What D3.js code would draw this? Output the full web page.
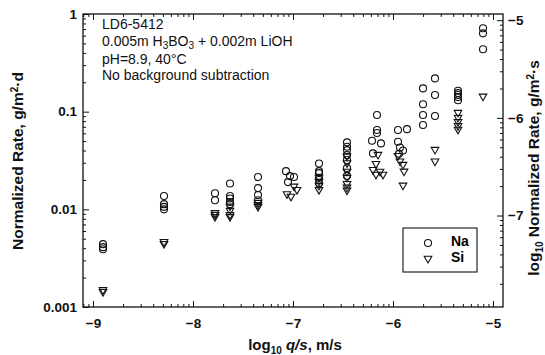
<!DOCTYPE html>
<html>
<head>
<meta charset="utf-8">
<script src="https://cdn.jsdelivr.net/npm/d3@7"></script>
<style>
  html, body { margin: 0; padding: 0; background: #fff; }
  svg { display: block; font-family: "Liberation Sans", Arial, sans-serif; }
  .tick line { stroke: #111; }
  .domain { display: none; }
</style>
</head>
<body>
<svg id="chart" width="545" height="355"></svg>
<script>
// Na release: log10(q/s) and normalized rate (g/m²·d)
const naLogQS = [
  -8.90, -8.90, -8.90,
  -8.29, -8.29, -8.29, -8.29,
  -7.78, -7.78,
  -7.63, -7.63, -7.63, -7.63, -7.63,
  -7.35, -7.35, -7.35, -7.35,
  -7.07, -7.03, -6.99, -7.05,
  -6.74, -6.74, -6.74, -6.74, -6.74,
  -6.46, -6.46, -6.46, -6.46, -6.46, -6.46, -6.46,
  -6.16, -6.16, -6.16, -6.21, -6.12, -6.20,
  -5.95, -5.86, -5.95, -5.93, -5.90, -5.94,
  -5.70, -5.70, -5.70, -5.70,
  -5.58, -5.58, -5.58,
  -5.35, -5.35, -5.35, -5.35, -5.35,
  -5.10, -5.10, -5.10
];
const naRate = [
  0.0044, 0.0041, 0.0039,
  0.0137, 0.0113, 0.0106, 0.0100,
  0.0146, 0.0124,
  0.0184, 0.0137, 0.0129, 0.0119, 0.0113,
  0.0214, 0.0165, 0.0140, 0.0124,
  0.0246, 0.0219, 0.0214, 0.0190,
  0.0295, 0.0246, 0.0235, 0.0210, 0.0185,
  0.0485, 0.0437, 0.0404, 0.0360, 0.0320, 0.0265, 0.0220,
  0.0923, 0.0648, 0.0604, 0.0503, 0.0473, 0.0374,
  0.0648, 0.0662, 0.0492, 0.0430, 0.0400, 0.0370,
  0.173, 0.119, 0.0923, 0.0729,
  0.219, 0.148, 0.0902,
  0.164, 0.155, 0.148, 0.141, 0.131,
  0.714, 0.634, 0.435
];

// Si release: log10(q/s) and normalized rate (g/m²·d)
const siLogQS = [
  -8.90, -8.90,
  -8.29, -8.29,
  -7.78, -7.78, -7.78,
  -7.63, -7.63, -7.63, -7.63,
  -7.35, -7.35, -7.35,
  -7.06, -7.02, -6.99, -6.96,
  -6.74, -6.74, -6.74, -6.74,
  -6.46, -6.46, -6.46, -6.46, -6.46, -6.46, -6.46,
  -6.15, -6.17, -6.20, -6.13, -6.17, -6.10,
  -5.93, -5.90, -5.89, -5.90, -5.95,
  -5.58, -5.58,
  -5.35, -5.35, -5.35, -5.35, -5.35,
  -5.10
];
const siRate = [
  0.00142, 0.00148,
  0.0044, 0.0046,
  0.0091, 0.0087, 0.0083,
  0.0106, 0.0096, 0.0087, 0.0083,
  0.0116, 0.0110, 0.0105,
  0.0142, 0.0134, 0.0170, 0.0157,
  0.0209, 0.0190, 0.0173, 0.0157,
  0.0345, 0.0295, 0.0241, 0.0209, 0.0181, 0.0166, 0.0155,
  0.0359, 0.0290, 0.0252, 0.0241, 0.0225, 0.0225,
  0.0307, 0.0284, 0.0242, 0.0174, 0.0350,
  0.0404, 0.0307,
  0.0968, 0.086, 0.078, 0.071, 0.065,
  0.142
];

// Axis ticks
const xTickValues = [-9, -8, -7, -6, -5];
const yTickValues = [0.001, 0.01, 0.1, 1];
const yTickLabels = ["0.001", "0.01", "0.1", "1"];
const y2TickValues = [-7, -6, -5];
const secondsPerDay = 86400;

const svg = d3.select("#chart");
const plotLeft = 83, plotRight = 503, plotTop = 14, plotBottom = 307;

const x = d3.scaleLinear().domain([-9.1, -4.9]).range([plotLeft, plotRight]);
const y = d3.scaleLog().domain([0.001, 1]).range([plotBottom, plotTop]);
const y2 = d3.scaleLinear()
  .domain([Math.log10(0.001 / secondsPerDay), Math.log10(1 / secondsPerDay)])
  .range([plotBottom, plotTop]);

// minor ticks at n + log10(k), k = 2..9, for axes that carry log10 values
function logMinor(domain) {
  const lo = Math.min(...domain), hi = Math.max(...domain), out = [];
  for (let n = Math.floor(lo) - 1; n <= Math.ceil(hi); n++) {
    for (let k = 2; k <= 9; k++) {
      const v = n + Math.log10(k);
      if (v > lo && v < hi) out.push(v);
    }
  }
  return out;
}
const xMinor = logMinor(x.domain());
const y2Minor = logMinor(y2.domain());
const yMinor = [];
for (let e = -3; e < 0; e++) for (let k = 2; k <= 9; k++) yMinor.push(k * Math.pow(10, e));

const tickFont = g => g.selectAll("text")
  .attr("font-size", 13.5).attr("font-weight", "bold").attr("fill", "#111")
  .attr("font-family", "Liberation Sans, Arial, sans-serif");

// bottom
svg.append("g").attr("transform", `translate(0,${plotBottom})`)
  .call(d3.axisBottom(x).tickValues(xTickValues).tickSize(-6).tickPadding(11).tickFormat(d3.format("d")))
  .call(tickFont);
svg.append("g").attr("transform", `translate(0,${plotBottom})`)
  .call(d3.axisBottom(x).tickValues(xMinor).tickSize(-3).tickFormat(""));
// top
svg.append("g").attr("transform", `translate(0,${plotTop})`)
  .call(d3.axisTop(x).tickValues(xTickValues).tickSize(-6).tickFormat(""));
svg.append("g").attr("transform", `translate(0,${plotTop})`)
  .call(d3.axisTop(x).tickValues(xMinor).tickSize(-3).tickFormat(""));
// left
svg.append("g").attr("transform", `translate(${plotLeft},0)`)
  .call(d3.axisLeft(y).tickValues(yTickValues).tickSize(-6).tickPadding(6)
    .tickFormat((d, i) => yTickLabels[i]))
  .call(tickFont);
svg.append("g").attr("transform", `translate(${plotLeft},0)`)
  .call(d3.axisLeft(y).tickValues(yMinor).tickSize(-3).tickFormat(""));
// right
svg.append("g").attr("transform", `translate(${plotRight},0)`)
  .call(d3.axisRight(y2).tickValues(y2TickValues).tickSize(-6).tickPadding(5).tickFormat(d3.format("d")))
  .call(tickFont);
svg.append("g").attr("transform", `translate(${plotRight},0)`)
  .call(d3.axisRight(y2).tickValues(y2Minor).tickSize(-3).tickFormat(""));

// frame
svg.append("rect").attr("x", plotLeft).attr("y", plotTop)
  .attr("width", plotRight - plotLeft).attr("height", plotBottom - plotTop)
  .attr("fill", "none").attr("stroke", "#111").attr("stroke-width", 1.3);

// markers
const triPath = "M-3.8,-2.7L3.8,-2.7L0,3.9Z";
const naPts = naLogQS.map((v, i) => ({ x: v, r: naRate[i] }));
const siPts = siLogQS.map((v, i) => ({ x: v, r: siRate[i] }));

svg.append("g").selectAll("path").data(siPts).join("path")
  .attr("d", triPath)
  .attr("transform", d => `translate(${x(d.x)},${y(d.r)})`)
  .attr("fill", "none").attr("stroke", "#111").attr("stroke-width", 1.1);

svg.append("g").selectAll("circle").data(naPts).join("circle")
  .attr("cx", d => x(d.x)).attr("cy", d => y(d.r)).attr("r", 3.5)
  .attr("fill", "none").attr("stroke", "#111").attr("stroke-width", 1.1);

// annotation
const note = svg.append("g").attr("font-size", 14).attr("fill", "#111");
note.append("text").attr("x", 102).attr("y", 29).text("LD6-5412");
const l2 = note.append("text").attr("x", 102).attr("y", 46);
l2.append("tspan").text("0.005m H");
l2.append("tspan").attr("font-size", 10).attr("dy", 3).text("3");
l2.append("tspan").attr("dy", -3).text("BO");
l2.append("tspan").attr("font-size", 10).attr("dy", 3).text("3");
l2.append("tspan").attr("dy", -3).text(" + 0.002m LiOH");
note.append("text").attr("x", 102).attr("y", 64).text("pH=8.9, 40°C");
note.append("text").attr("x", 102).attr("y", 80).text("No background subtraction");

// legend
const lg = svg.append("g");
lg.append("rect").attr("x", 403).attr("y", 228).attr("width", 74).attr("height", 44)
  .attr("fill", "#fff").attr("stroke", "#111").attr("stroke-width", 1.1);
lg.append("circle").attr("cx", 428).attr("cy", 243).attr("r", 3.5)
  .attr("fill", "none").attr("stroke", "#111").attr("stroke-width", 1.1);
lg.append("path").attr("d", triPath).attr("transform", "translate(428,259)")
  .attr("fill", "none").attr("stroke", "#111").attr("stroke-width", 1.1);
lg.append("text").attr("x", 451).attr("y", 246).attr("font-size", 14).attr("font-weight", "bold").text("Na");
lg.append("text").attr("x", 451).attr("y", 262).attr("font-size", 14).attr("font-weight", "bold").text("Si");

// axis titles
const xt = svg.append("text").attr("x", 295).attr("y", 350).attr("text-anchor", "middle")
  .attr("font-size", 15).attr("font-weight", "bold").attr("fill", "#111");
xt.append("tspan").text("log");
xt.append("tspan").attr("font-size", 10).attr("dy", 4).text("10");
xt.append("tspan").attr("dy", -4).text(" ");
xt.append("tspan").attr("font-style", "italic").text("q/s");
xt.append("tspan").text(", m/s");

const yt = svg.append("text").attr("transform", "translate(23,161) rotate(-90)")
  .attr("text-anchor", "middle").attr("font-size", 15.5).attr("font-weight", "bold").attr("fill", "#111");
yt.append("tspan").text("Normalized Rate, g/m");
yt.append("tspan").attr("font-size", 10).attr("dy", -5).text("2");
yt.append("tspan").attr("dy", 5).text("·d");

const y2t = svg.append("text").attr("transform", "translate(539,168) rotate(-90)")
  .attr("text-anchor", "middle").attr("font-size", 15.5).attr("font-weight", "bold").attr("fill", "#111");
y2t.append("tspan").text("log");
y2t.append("tspan").attr("font-size", 10).attr("dy", 4).text("10");
y2t.append("tspan").attr("dy", -4).text(" Normalized Rate, g/m");
y2t.append("tspan").attr("font-size", 10).attr("dy", -5).text("2");
y2t.append("tspan").attr("dy", 5).text("·s");
</script>
</body>
</html>
